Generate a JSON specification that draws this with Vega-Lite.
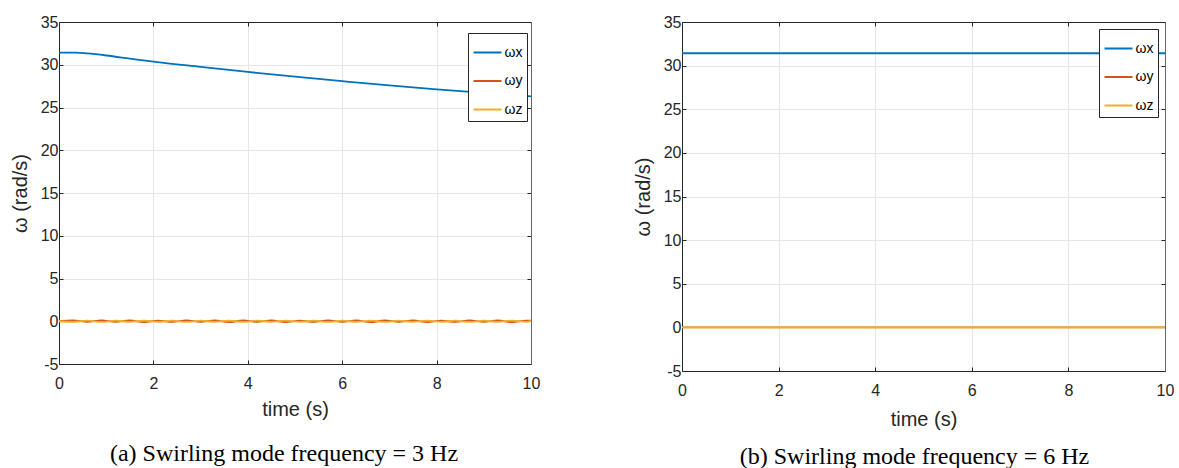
{
  "$schema": "https://vega.github.io/schema/vega-lite/v6.json",
  "background": "white",
  "padding": {"left": 10, "top": 9, "right": 0, "bottom": 0},
  "spacing": 93,
  "datasets": {
    "a": [
      {"t": 0, "s": "ωx", "v": 31.42}, {"t": 0.37, "s": "ωx", "v": 31.42}, {"t": 0.6, "s": "ωx", "v": 31.32},
      {"t": 1, "s": "ωx", "v": 31.08}, {"t": 1.5, "s": "ωx", "v": 30.72}, {"t": 2, "s": "ωx", "v": 30.36},
      {"t": 3, "s": "ωx", "v": 29.75}, {"t": 4, "s": "ωx", "v": 29.16}, {"t": 5, "s": "ωx", "v": 28.6},
      {"t": 6, "s": "ωx", "v": 28.08}, {"t": 7, "s": "ωx", "v": 27.58}, {"t": 8, "s": "ωx", "v": 27.12},
      {"t": 9, "s": "ωx", "v": 26.7}, {"t": 10, "s": "ωx", "v": 26.3},
      {"t": 0, "s": "ωy", "v": 0}, {"t": 0.3, "s": "ωy", "v": 0.09}, {"t": 0.6, "s": "ωy", "v": -0.08},
      {"t": 0.9, "s": "ωy", "v": 0.1}, {"t": 1.2, "s": "ωy", "v": -0.08}, {"t": 1.5, "s": "ωy", "v": 0.09},
      {"t": 1.8, "s": "ωy", "v": -0.1}, {"t": 2.1, "s": "ωy", "v": 0.08}, {"t": 2.4, "s": "ωy", "v": -0.08},
      {"t": 2.7, "s": "ωy", "v": 0.1}, {"t": 3.0, "s": "ωy", "v": -0.08}, {"t": 3.3, "s": "ωy", "v": 0.09},
      {"t": 3.6, "s": "ωy", "v": -0.1}, {"t": 3.9, "s": "ωy", "v": 0.1}, {"t": 4.2, "s": "ωy", "v": -0.08},
      {"t": 4.5, "s": "ωy", "v": 0.09}, {"t": 4.8, "s": "ωy", "v": -0.1}, {"t": 5.1, "s": "ωy", "v": 0.08},
      {"t": 5.4, "s": "ωy", "v": -0.08}, {"t": 5.7, "s": "ωy", "v": 0.1}, {"t": 6.0, "s": "ωy", "v": -0.08},
      {"t": 6.3, "s": "ωy", "v": 0.09}, {"t": 6.6, "s": "ωy", "v": -0.1}, {"t": 6.9, "s": "ωy", "v": 0.1},
      {"t": 7.2, "s": "ωy", "v": -0.08}, {"t": 7.5, "s": "ωy", "v": 0.09}, {"t": 7.8, "s": "ωy", "v": -0.1},
      {"t": 8.1, "s": "ωy", "v": 0.08}, {"t": 8.4, "s": "ωy", "v": -0.08}, {"t": 8.7, "s": "ωy", "v": 0.1},
      {"t": 9.0, "s": "ωy", "v": -0.08}, {"t": 9.3, "s": "ωy", "v": 0.09}, {"t": 9.6, "s": "ωy", "v": -0.1},
      {"t": 9.9, "s": "ωy", "v": 0.08}, {"t": 10, "s": "ωy", "v": 0.06},
      {"t": 0, "s": "ωz", "v": 0}, {"t": 0.3, "s": "ωz", "v": -0.07}, {"t": 0.6, "s": "ωz", "v": 0.07},
      {"t": 0.9, "s": "ωz", "v": -0.08}, {"t": 1.2, "s": "ωz", "v": 0.07}, {"t": 1.5, "s": "ωz", "v": -0.07},
      {"t": 1.8, "s": "ωz", "v": 0.08}, {"t": 2.1, "s": "ωz", "v": -0.07}, {"t": 2.4, "s": "ωz", "v": 0.07},
      {"t": 2.7, "s": "ωz", "v": -0.08}, {"t": 3.0, "s": "ωz", "v": 0.07}, {"t": 3.3, "s": "ωz", "v": -0.07},
      {"t": 3.6, "s": "ωz", "v": 0.08}, {"t": 3.9, "s": "ωz", "v": -0.08}, {"t": 4.2, "s": "ωz", "v": 0.07},
      {"t": 4.5, "s": "ωz", "v": -0.07}, {"t": 4.8, "s": "ωz", "v": 0.08}, {"t": 5.1, "s": "ωz", "v": -0.07},
      {"t": 5.4, "s": "ωz", "v": 0.07}, {"t": 5.7, "s": "ωz", "v": -0.08}, {"t": 6.0, "s": "ωz", "v": 0.07},
      {"t": 6.3, "s": "ωz", "v": -0.07}, {"t": 6.6, "s": "ωz", "v": 0.08}, {"t": 6.9, "s": "ωz", "v": -0.08},
      {"t": 7.2, "s": "ωz", "v": 0.07}, {"t": 7.5, "s": "ωz", "v": -0.07}, {"t": 7.8, "s": "ωz", "v": 0.08},
      {"t": 8.1, "s": "ωz", "v": -0.07}, {"t": 8.4, "s": "ωz", "v": 0.07}, {"t": 8.7, "s": "ωz", "v": -0.08},
      {"t": 9.0, "s": "ωz", "v": 0.07}, {"t": 9.3, "s": "ωz", "v": -0.07}, {"t": 9.6, "s": "ωz", "v": 0.08},
      {"t": 9.9, "s": "ωz", "v": -0.07}, {"t": 10, "s": "ωz", "v": 0.04}
    ],
    "b": [
      {"t": 0, "s": "ωx", "v": 31.42}, {"t": 10, "s": "ωx", "v": 31.42},
      {"t": 0, "s": "ωy", "v": 0}, {"t": 10, "s": "ωy", "v": 0},
      {"t": 0, "s": "ωz", "v": 0}, {"t": 10, "s": "ωz", "v": 0}
    ]
  },
  "hconcat": [
    {
      "width": 472,
      "height": 342,
      "data": {"name": "a"},
      "title": {"text": "(a) Swirling mode frequency = 3 Hz", "orient": "bottom", "frame": "group", "anchor": "middle", "dx": -11, "offset": 23, "font": "Liberation Serif", "fontSize": 24, "fontWeight": "normal", "color": "#000000"},
      "layer": [
        {
          "mark": {"type": "line", "strokeWidth": 1.8, "interpolate": "monotone"},
          "encoding": {
            "x": {"field": "t", "type": "quantitative", "scale": {"domain": [0, 10], "nice": false},
                  "axis": {"orient": "bottom", "values": [0, 2, 4, 6, 8, 10], "grid": true, "title": "time (s)", "labelPadding": 15, "titlePadding": 8, "labelExpr": "'' + datum.value"}},
            "y": {"field": "v", "type": "quantitative", "scale": {"domain": [-5, 35], "nice": false},
                  "axis": {"orient": "left", "values": [-5, 0, 5, 10, 15, 20, 25, 30, 35], "grid": true, "title": "ω (rad/s)", "labelPadding": 5, "titlePadding": 10, "labelExpr": "'' + datum.value"}},
            "color": {"field": "s", "type": "nominal", "scale": {"domain": ["ωx", "ωy", "ωz"], "range": ["#0072BD", "#D95319", "#EDB120"]},
                      "legend": {"orient": "none", "legendX": 409, "legendY": 11, "title": null}}
          }
        },
        {
          "mark": {"type": "line", "strokeOpacity": 0},
          "encoding": {
            "x": {"field": "t", "type": "quantitative", "axis": {"orient": "top", "values": [0, 2, 4, 6, 8, 10], "labels": false, "grid": false, "title": ".", "titleColor": "#ffffff", "titleFontSize": 2, "titlePadding": 10}},
            "y": {"field": "v", "type": "quantitative", "axis": {"orient": "right", "values": [-5, 0, 5, 10, 15, 20, 25, 30, 35], "labels": false, "grid": false, "title": null, "domainColor": "#666666"}}
          }
        }
      ],
      "resolve": {"axis": {"x": "independent", "y": "independent"}}
    },
    {
      "width": 483,
      "height": 349,
      "data": {"name": "b"},
      "title": {"text": "(b) Swirling mode frequency = 6 Hz", "orient": "bottom", "frame": "group", "anchor": "middle", "dx": -9, "offset": 16, "font": "Liberation Serif", "fontSize": 24, "fontWeight": "normal", "color": "#000000"},
      "layer": [
        {
          "mark": {"type": "line", "strokeWidth": 1.8},
          "encoding": {
            "x": {"field": "t", "type": "quantitative", "scale": {"domain": [0, 10], "nice": false},
                  "axis": {"orient": "bottom", "values": [0, 2, 4, 6, 8, 10], "grid": true, "title": "time (s)", "labelPadding": 15, "titlePadding": 11, "labelExpr": "'' + datum.value"}},
            "y": {"field": "v", "type": "quantitative", "scale": {"domain": [-5, 35], "nice": false},
                  "axis": {"orient": "left", "values": [-5, 0, 5, 10, 15, 20, 25, 30, 35], "grid": true, "title": "ω (rad/s)", "labelPadding": 5, "titlePadding": 10, "labelExpr": "'' + datum.value"}},
            "color": {"field": "s", "type": "nominal", "scale": {"domain": ["ωx", "ωy", "ωz"], "range": ["#0072BD", "#D95319", "#EDB120"]},
                      "legend": {"orient": "none", "legendX": 417, "legendY": 7, "title": null}}
          }
        },
        {
          "mark": {"type": "line", "strokeOpacity": 0},
          "encoding": {
            "x": {"field": "t", "type": "quantitative", "axis": {"orient": "top", "values": [0, 2, 4, 6, 8, 10], "labels": false, "grid": false, "title": null}},
            "y": {"field": "v", "type": "quantitative", "axis": {"orient": "right", "values": [-5, 0, 5, 10, 15, 20, 25, 30, 35], "labels": false, "grid": false, "title": null, "domainColor": "#666666"}}
          }
        }
      ],
      "resolve": {"axis": {"x": "independent", "y": "independent"}}
    }
  ],
  "resolve": {"scale": {"color": "independent"}, "legend": {"color": "independent"}},
  "config": {
    "view": {"stroke": null},
    "axis": {
      "labelFont": "Liberation Sans", "titleFont": "Liberation Sans",
      "labelFontSize": 16, "titleFontSize": 20, "titleFontWeight": "normal",
      "labelColor": "#262626", "titleColor": "#262626", "labelFlush": false,
      "domainColor": "#262626", "tickColor": "#262626", "domainWidth": 1, "tickWidth": 1,
      "gridColor": "#e6e6e6", "gridWidth": 1, "tickSize": -4
    },
    "legend": {
      "symbolType": "stroke", "symbolSize": 784, "symbolStrokeWidth": 2,
      "labelFont": "Liberation Sans", "labelFontSize": 14, "labelColor": "#000000", "labelOffset": 2,
      "rowPadding": 6.5, "padding": 4.5, "strokeColor": "#262626", "fillColor": "#ffffff", "cornerRadius": 0
    }
  }
}
